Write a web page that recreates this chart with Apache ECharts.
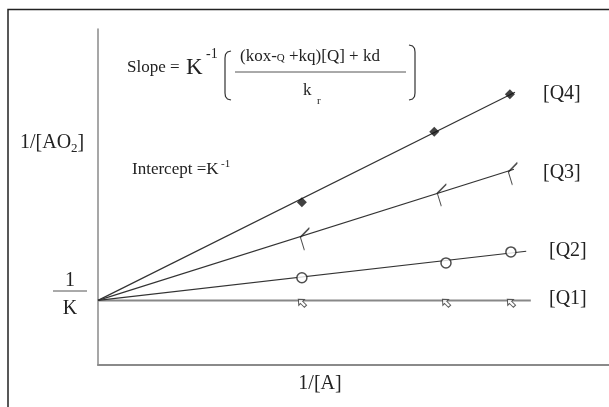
<!DOCTYPE html>
<html>
<head>
<meta charset="utf-8">
<script src="https://cdn.jsdelivr.net/npm/echarts@6/dist/echarts.min.js"></script>
<style>
html,body{margin:0;padding:0;background:#fff;}
#chart{width:609px;height:407px;}
</style>
</head>
<body>
<div id="chart"></div>
<script>
// ---- data (arbitrary units) ----
const seriesNames = ['[Q1]', '[Q2]', '[Q3]', '[Q4]'];
const intercept = 1.0;              // 1/K
const q1X = [3.99, 6.81, 8.08];
const q1Y = [0.98, 0.98, 0.98];
const q2X = [3.99, 6.81, 8.08];
const q2Y = [1.35, 1.58, 1.75];
const q3X = [3.97, 6.65, 8.04];
const q3Y = [1.98, 2.66, 2.99];
const q4X = [3.99, 6.58, 8.06];
const q4Y = [2.52, 3.61, 4.19];
const lineEndX = [8.47, 8.38, 8.14, 8.16];
const lineEndY = [1.00, 1.76, 3.03, 4.22];
const xAxisTitle = '1/[A]';

const pts = (xs, ys) => xs.map((x, i) => [x, ys[i]]);
const serif = '"Liberation Serif", "Times New Roman", serif';
const ink = '#222';

const chart = echarts.init(document.getElementById('chart'));

const lineColors = ['#888', '#333', '#333', '#333'];
const lineWidths = [2, 1.2, 1.2, 1.2];

const series = [];
for (let i = 0; i < 4; i++) {
  series.push({
    type: 'line',
    name: seriesNames[i] + ' fit',
    data: [[0, intercept], [lineEndX[i], lineEndY[i]]],
    symbol: 'none',
    silent: true,
    lineStyle: { color: lineColors[i], width: lineWidths[i] },
    z: 2
  });
}
// markers
series.push({
  type: 'scatter', name: seriesNames[0], data: pts(q1X, q1Y),
  symbol: 'path://M5,0 L10,5 L7,5 L7,11 L3,11 L3,5 L0,5 Z',
  symbolSize: [8, 10], symbolRotate: 45, symbolOffset: [0, 1],
  itemStyle: { color: '#fff', borderColor: '#333', borderWidth: 1 }, z: 5
});
series.push({
  type: 'scatter', name: seriesNames[1], data: pts(q2X, q2Y),
  symbol: 'circle', symbolSize: 10,
  itemStyle: { color: '#fff', borderColor: '#222', borderWidth: 1.5 }, z: 5
});
series.push({
  type: 'scatter', name: seriesNames[2], data: pts(q3X, q3Y),
  symbol: 'path://M9,0 L0,10 L4,24', symbolKeepAspect: false,
  symbolSize: [9, 22], symbolOffset: [4, 2],
  itemStyle: { color: 'transparent', borderColor: '#222', borderWidth: 1.3 }, z: 5
});
series.push({
  type: 'scatter', name: seriesNames[3], data: pts(q4X, q4Y),
  symbol: 'diamond', symbolSize: 10,
  itemStyle: { color: '#111' }, z: 5
});

const txt = (text, x, y, size, align, extra) => ({
  type: 'text', silent: true, z: 10,
  style: Object.assign({
    text: text, x: x, y: y, font: size + 'px ' + serif, fill: ink,
    textAlign: align || 'left', textVerticalAlign: 'middle'
  }, extra || {})
});

const graphic = [
  // outer frame
  { type: 'rect', silent: true, shape: { x: 8, y: 9.5, width: 700, height: 500 },
    style: { fill: 'none', stroke: '#222', lineWidth: 1.5 } },
  // series labels
  txt(seriesNames[3], 543, 94, 20),
  txt(seriesNames[2], 543, 173, 20),
  txt(seriesNames[1], 549, 251, 20),
  txt(seriesNames[0], 549, 299, 20),
  // axis titles
  txt(xAxisTitle, 320, 384, 20, 'center'),
  { type: 'text', silent: true, z: 10,
    style: { x: 20, y: 143, textVerticalAlign: 'middle',
      text: '{a|1/[AO}{s|2}{a|]}',
      rich: { a: { font: '20px ' + serif, fill: ink }, s: { font: '13px ' + serif, fill: ink, padding: [12, 0, 0, 0] } } } },
  // 1/K tick label
  txt('1', 70, 281, 20, 'center'),
  { type: 'line', silent: true, shape: { x1: 53, y1: 291, x2: 87, y2: 291 }, style: { stroke: '#555', lineWidth: 1 } },
  txt('K', 70, 309, 20, 'center'),
  // slope formula
  txt('Slope = ', 127, 68, 17),
  txt('K', 186, 68, 23),
  txt('-1', 206, 54, 14),
  { type: 'polyline', silent: true,
    shape: { points: [[231, 51], [227.5, 52], [225.5, 54.5], [225, 58], [225, 93], [225.5, 96.5], [227.5, 99], [231, 100]] },
    style: { fill: 'none', stroke: '#333', lineWidth: 1.2 } },
  { type: 'polyline', silent: true,
    shape: { points: [[409, 45], [412.5, 46], [414.5, 48.5], [415, 52], [415, 93], [414.5, 96.5], [412.5, 99], [409, 100]] },
    style: { fill: 'none', stroke: '#333', lineWidth: 1.2 } },
  { type: 'text', silent: true, z: 10,
    style: { x: 240, y: 57, textVerticalAlign: 'middle',
      text: '{a|(kox-}{s|Q}{a| +kq)[Q] + kd}',
      rich: { a: { font: '17px ' + serif, fill: ink }, s: { font: '11px ' + serif, fill: ink, padding: [3, 0, 0, 0] } } } },
  { type: 'line', silent: true, shape: { x1: 235, y1: 72, x2: 406, y2: 72 }, style: { stroke: '#555', lineWidth: 1 } },
  txt('k', 303, 91, 17),
  txt('r', 317, 101, 11),
  // intercept
  txt('Intercept =K', 132, 170, 17),
  txt('-1', 221, 164, 11)
];

const option = {
  backgroundColor: '#fff',
  animation: false,
  grid: { left: 98, right: 0, top: 29, bottom: 42 },
  xAxis: {
    type: 'value', min: 0, max: 10,
    axisLine: { show: true, onZero: true, lineStyle: { color: '#8a8a8a', width: 2 } },
    axisTick: { show: false }, axisLabel: { show: false }, splitLine: { show: false }
  },
  yAxis: {
    type: 'value', min: 0, max: 5.2,
    axisLine: { show: true, lineStyle: { color: '#8a8a8a', width: 1.5 } },
    axisTick: { show: false }, axisLabel: { show: false }, splitLine: { show: false }
  },
  series: series,
  graphic: graphic
};
chart.setOption(option);
</script>
</body>
</html>
